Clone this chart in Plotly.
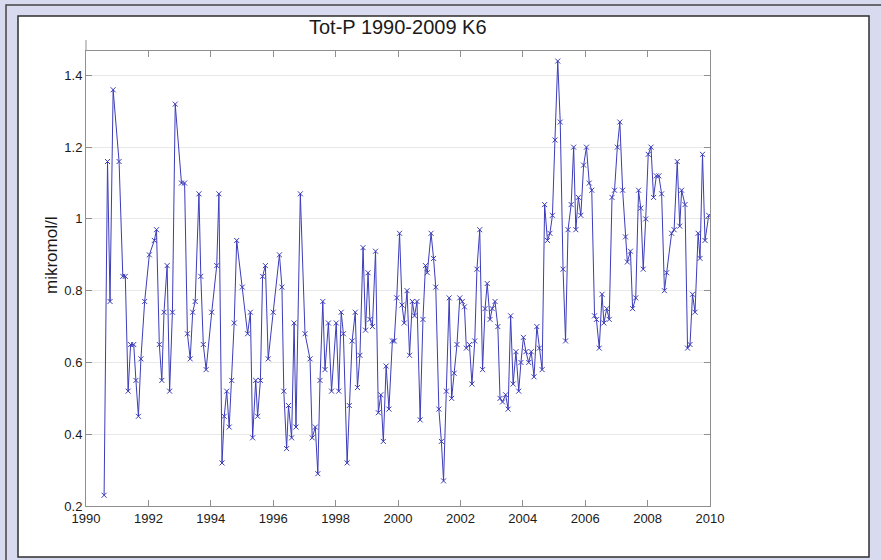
import plotly.graph_objects as go

# Sampling dates (decimal years) and total phosphorus at station K6
years = [
    1990.58, 1990.69, 1990.77, 1990.87, 1991.06, 1991.18, 1991.26, 1991.35, 1991.43, 1991.53,
    1991.60, 1991.68, 1991.76, 1991.88, 1992.03, 1992.19, 1992.26, 1992.35, 1992.43, 1992.50,
    1992.60, 1992.68, 1992.77, 1992.86, 1993.06, 1993.16, 1993.25, 1993.34, 1993.42, 1993.50,
    1993.62, 1993.68, 1993.76, 1993.85, 1994.03, 1994.19, 1994.26, 1994.36, 1994.43, 1994.51,
    1994.59, 1994.67, 1994.75, 1994.83, 1995.01, 1995.18, 1995.27, 1995.34, 1995.44, 1995.50,
    1995.59, 1995.66, 1995.75, 1995.84, 1996.00, 1996.20, 1996.28, 1996.34, 1996.43, 1996.49,
    1996.59, 1996.67, 1996.73, 1996.87, 1997.02, 1997.18, 1997.25, 1997.35, 1997.43, 1997.50,
    1997.59, 1997.66, 1997.77, 1997.87, 1998.02, 1998.10, 1998.18, 1998.25, 1998.37, 1998.44,
    1998.53, 1998.63, 1998.70, 1998.78, 1998.88, 1998.96, 1999.04, 1999.10, 1999.18, 1999.28,
    1999.37, 1999.45, 1999.53, 1999.62, 1999.71, 1999.82, 1999.88, 1999.96, 2000.05, 2000.13,
    2000.20, 2000.29, 2000.37, 2000.46, 2000.53, 2000.61, 2000.71, 2000.80, 2000.88, 2000.94,
    2001.06, 2001.14, 2001.21, 2001.31, 2001.39, 2001.46, 2001.55, 2001.64, 2001.72, 2001.80,
    2001.89, 2001.98, 2002.06, 2002.13, 2002.19, 2002.29, 2002.37, 2002.46, 2002.53, 2002.62,
    2002.71, 2002.79, 2002.86, 2002.95, 2003.02, 2003.11, 2003.20, 2003.27, 2003.35, 2003.45,
    2003.53, 2003.61, 2003.69, 2003.78, 2003.87, 2003.94, 2004.02, 2004.10, 2004.19, 2004.27,
    2004.36, 2004.45, 2004.53, 2004.62, 2004.70, 2004.79, 2004.87, 2004.95, 2005.03, 2005.12,
    2005.20, 2005.29, 2005.37, 2005.45, 2005.55, 2005.63, 2005.70, 2005.78, 2005.86, 2005.95,
    2006.04, 2006.13, 2006.21, 2006.30, 2006.36, 2006.45, 2006.54, 2006.60, 2006.69, 2006.77,
    2006.86, 2006.94, 2007.03, 2007.11, 2007.20, 2007.29, 2007.35, 2007.45, 2007.52, 2007.62,
    2007.71, 2007.78, 2007.86, 2007.94, 2008.02, 2008.11, 2008.19, 2008.28, 2008.36, 2008.45,
    2008.54, 2008.61, 2008.77, 2008.85, 2008.95, 2009.03, 2009.09, 2009.20, 2009.28, 2009.36,
    2009.44, 2009.52, 2009.62, 2009.68, 2009.76, 2009.84, 2009.96,
]
tot_p = [
    0.23, 1.16, 0.77, 1.36, 1.16, 0.84, 0.84, 0.52, 0.65, 0.65,
    0.55, 0.45, 0.61, 0.77, 0.90, 0.94, 0.97, 0.65, 0.55, 0.74,
    0.87, 0.52, 0.74, 1.32, 1.10, 1.10, 0.68, 0.61, 0.74, 0.77,
    1.07, 0.84, 0.65, 0.58, 0.74, 0.87, 1.07, 0.32, 0.45, 0.52,
    0.42, 0.55, 0.71, 0.94, 0.81, 0.68, 0.74, 0.39, 0.55, 0.45,
    0.55, 0.84, 0.87, 0.61, 0.74, 0.90, 0.81, 0.52, 0.36, 0.48,
    0.39, 0.71, 0.42, 1.07, 0.68, 0.61, 0.39, 0.42, 0.29, 0.55,
    0.77, 0.58, 0.71, 0.52, 0.71, 0.52, 0.74, 0.68, 0.32, 0.48,
    0.66, 0.74, 0.53, 0.62, 0.92, 0.69, 0.85, 0.72, 0.70, 0.91,
    0.46, 0.51, 0.38, 0.59, 0.47, 0.66, 0.66, 0.78, 0.96, 0.76,
    0.71, 0.80, 0.62, 0.77, 0.73, 0.77, 0.44, 0.72, 0.87, 0.85,
    0.96, 0.89, 0.81, 0.47, 0.38, 0.27, 0.52, 0.78, 0.50, 0.57,
    0.65, 0.78, 0.77, 0.755, 0.64, 0.65, 0.54, 0.66, 0.86, 0.97,
    0.58, 0.75, 0.82, 0.72, 0.75, 0.77, 0.70, 0.50, 0.49, 0.51,
    0.47, 0.73, 0.54, 0.63, 0.52, 0.60, 0.67, 0.63, 0.60, 0.63,
    0.56, 0.70, 0.64, 0.58, 1.04, 0.94, 0.96, 1.01, 1.22, 1.44,
    1.27, 0.86, 0.66, 0.97, 1.04, 1.20, 0.97, 1.06, 1.01, 1.15,
    1.20, 1.10, 1.08, 0.73, 0.72, 0.64, 0.79, 0.71, 0.75, 0.72,
    1.06, 1.08, 1.20, 1.27, 1.08, 0.95, 0.88, 0.91, 0.75, 0.78,
    1.08, 1.03, 0.86, 1.00, 1.18, 1.20, 1.06, 1.12, 1.12, 1.07,
    0.80, 0.85, 0.96, 0.97, 1.16, 0.98, 1.08, 1.04, 0.64, 0.65,
    0.79, 0.74, 0.96, 0.89, 1.18, 0.94, 1.01,
]

x_ticks = [1990, 1992, 1994, 1996, 1998, 2000, 2002, 2004, 2006, 2008, 2010]
y_ticks = [0.2, 0.4, 0.6, 0.8, 1.0, 1.2, 1.4]
y_tick_text = ["0.2", "0.4", "0.6", "0.8", "1", "1.2", "1.4"]

title_text = "Tot-P 1990-2009 K6"
y_label = "mikromol/l"

W, H = 881, 560
ML, MR, MT, MB = 86, 171, 51, 54
PW, PH = W - ML - MR, H - MT - MB


def px(x):
    return (x - ML) / PW


def py(y):
    return (H - MB - y) / PH


FONT = "Liberation Sans, Arial, Helvetica, sans-serif"
AXIS_GREY = "#8f8f8f"

fig = go.Figure(
    go.Scatter(
        x=years,
        y=tot_p,
        mode="lines+markers",
        line=dict(color="#3c3cba", width=1),
        marker=dict(symbol="x-thin", size=5, line=dict(color="#3c3cba", width=1)),
        hoverinfo="x+y",
    )
)

shapes = [
    # outer frame
    dict(type="rect", xref="paper", yref="paper",
         x0=px(6), x1=px(890), y0=py(570), y1=py(5),
         line=dict(color="#444444", width=1.5), fillcolor="rgba(0,0,0,0)", layer="below"),
    # white figure panel
    dict(type="rect", xref="paper", yref="paper",
         x0=px(18), x1=px(869), y0=py(557), y1=py(16),
         line=dict(color="#2e2e2e", width=1.5), fillcolor="white", layer="below"),
    # small stub of the left axis above the box
    dict(type="line", xref="paper", yref="paper",
         x0=0, x1=0, y0=1, y1=py(40),
         line=dict(color=AXIS_GREY, width=1)),
]

annotations = [
    dict(text=title_text, xref="paper", yref="paper", x=0.5, y=py(27),
         xanchor="center", yanchor="middle", showarrow=False,
         font=dict(family=FONT, size=20, color="#1a1a1a")),
    dict(text=y_label, xref="paper", yref="paper", x=px(52), y=py(256),
         xanchor="center", yanchor="middle", showarrow=False, textangle=-90,
         font=dict(family=FONT, size=17, color="#1a1a1a")),
]

fig.update_layout(
    width=W, height=H, autosize=False,
    margin=dict(l=ML, r=MR, t=MT, b=MB, pad=0),
    paper_bgcolor="#d8daef",
    plot_bgcolor="rgba(0,0,0,0)",
    showlegend=False,
    shapes=shapes,
    annotations=annotations,
    font=dict(family=FONT, size=13, color="#1a1a1a"),
)

fig.update_xaxes(
    range=[1990, 2010], tickvals=x_ticks, ticktext=[str(t) for t in x_ticks],
    showgrid=False, zeroline=False,
    showline=True, linecolor=AXIS_GREY, linewidth=1, mirror="ticks",
    ticks="inside", ticklen=6, tickcolor=AXIS_GREY, tickwidth=1,
    tickfont=dict(family=FONT, size=13, color="#1a1a1a"),
)
fig.update_yaxes(
    range=[0.2, 1.468], tickvals=y_ticks, ticktext=y_tick_text,
    showgrid=True, gridcolor="#e8e8e8", gridwidth=1, zeroline=False,
    showline=True, linecolor=AXIS_GREY, linewidth=1, mirror="ticks",
    ticks="inside", ticklen=6, tickcolor=AXIS_GREY, tickwidth=1,
    tickfont=dict(family=FONT, size=13, color="#1a1a1a"),
)

fig.write_html("out.html")
